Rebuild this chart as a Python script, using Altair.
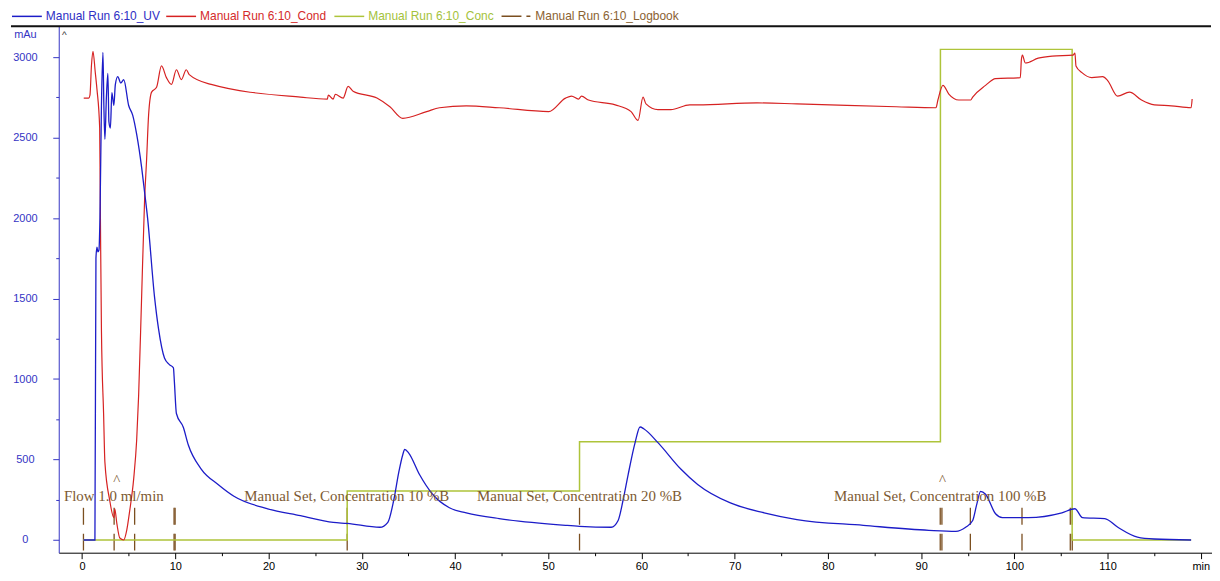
import altair as alt
import pandas as pd

UV = "Manual Run 6:10_UV"
COND = "Manual Run 6:10_Cond"
CONC = "Manual Run 6:10_Conc"
LOG = "Manual Run 6:10_Logbook"

# UV absorbance (min, mAu)
uv_t = [0.15, 1.38, 1.49, 1.6, 1.7, 1.81, 1.92, 2.08, 2.24, 2.34, 2.45, 2.61, 2.77, 2.88, 3.04, 3.2, 3.41,
        3.57, 3.83, 4.15, 4.47, 5.0, 5.43, 5.86, 6.39, 6.71, 7.03, 7.77, 8.2, 8.84, 9.37, 9.8, 9.9, 10.12,
        10.86, 11.4, 12.78, 14.59, 16.29, 19.91, 23.43, 26.94, 28.44, 31.95, 32.8, 33.44, 33.97, 34.4, 34.61,
        35.04, 36.21, 37.6, 39.4, 41.21, 44.73, 48.24, 51.86, 53.35, 56.76, 57.5, 58.04, 58.57, 59.32, 59.85,
        60.28, 61.77, 64.22, 66.03, 69.54, 73.16, 76.68, 83.8, 90.84, 93.72, 94.78, 95.53, 95.96, 96.38,
        96.91, 97.98, 98.72, 101.5, 105.1, 106.5, 107.3, 109.7, 111.1, 113.2, 115.0, 118.96]
uv_v = [0, 0, 1750, 1820, 1790, 1800, 2000, 2700, 3030, 2700, 2490, 2750, 2900, 2600, 2560, 2780, 2700,
        2830, 2880, 2840, 2860, 2700, 2640, 2520, 2315, 2160, 2000, 1512, 1313, 1131, 1090, 1070, 987, 786,
        700, 590, 441, 345, 272, 194, 151, 109, 103, 79, 110, 250, 420, 530, 563,
        540, 405, 284, 200, 169, 133, 109, 91, 85, 79, 121, 250, 405, 605, 702,
        690, 605, 441, 345, 230, 169, 127, 91, 60, 54, 79, 121, 220, 302,
        284, 163, 139, 139, 169, 194, 139, 133, 79, 18, 6, 0]

# Conductivity trace (min, plotted on the mAu scale)
cond_t = [0.18, 0.71, 0.85, 1.01, 1.17, 1.42, 1.6, 1.89, 1.97, 2.08,
          2.31, 2.45, 2.98, 3.41, 3.51, 3.73, 4.05, 4.47, 4.79, 5.11,
          5.54, 5.86, 6.07, 6.39, 6.71, 6.92, 7.14, 7.46, 7.99, 8.52,
          9.05, 9.59, 10.12, 10.65, 11.18, 11.5, 13.85, 23.43, 26.31, 26.41,
          26.94, 27.16, 28.0, 28.54, 29.07, 31.63, 33.02, 34.4, 36.96, 38.34,
          41.21, 44.73, 50.06, 51.86, 52.5, 53.25, 53.57, 54.32, 57.19, 58.89,
          59.64, 60.17, 60.49, 61.77, 63.15, 65.18, 66.03, 72.4, 76.68, 87.33,
          91.59, 91.8, 92.34, 92.97, 94.04, 95.32, 95.53, 96.91, 97.98, 100.64,
          100.75, 100.86, 101.18, 102.56, 104.05, 106.29, 106.5, 106.61, 107.25, 108.31,
          109.48, 110.01, 111.08, 112.35, 113.64, 115.02, 116.83, 118.96, 119.07]
cond_v = [2746, 2746, 2765, 2950, 3037, 2904, 2800, 2560, 2000, 1300,
          786, 484, 242, 139, 194, 103, 12, 0, 60, 181,
          381, 623, 900, 1512, 2117, 2360, 2643, 2783, 2813, 2946,
          2873, 2831, 2922, 2861, 2922, 2892, 2831, 2752, 2740, 2765,
          2740, 2770, 2746, 2819, 2789, 2746, 2692, 2620, 2662, 2686,
          2698, 2686, 2662, 2746, 2758, 2740, 2758, 2734, 2704, 2662,
          2607, 2752, 2710, 2674, 2674, 2704, 2704, 2716, 2710, 2692,
          2686, 2734, 2825, 2771, 2734, 2734, 2752, 2825, 2867, 2873,
          2982, 3013, 2964, 2994, 3007, 3013, 3025, 2946, 2904, 2873,
          2879, 2855, 2758, 2783, 2734, 2704, 2698, 2686, 2740]

# Concentration %B steps
conc_t = [0.1, 28.44, 53.36, 92.07, 106.2, 118.96]
conc_v = [0, 10, 20, 100, 0, 0]

# Logbook events (min)
log_t = [0.15, 3.44, 5.64, 9.87, 9.98, 28.44, 53.36, 92.05, 92.23, 95.28, 100.82, 106.0, 106.21]

# Logbook annotations
label_t = [3.41, 28.4, 53.36, 92.05]
label_text = ["Flow 1.0 ml/min", "Manual Set, Concentration 10 %B",
              "Manual Set, Concentration 20 %B", "Manual Set, Concentration 100 %B"]
caret_t = [3.73, 92.3]
start_caret_t = [-1.9]

x_ticks = list(range(0, 121, 10))
x_minor = list(range(5, 121, 10))
y_ticks = list(range(0, 3001, 500))
y_minor = list(range(250, 3001, 500))

uv_df = pd.DataFrame({"t": uv_t, "v": uv_v, "s": UV})
cond_df = pd.DataFrame({"t": cond_t, "v": cond_v, "s": COND})
conc_df = pd.DataFrame({"t": conc_t, "v": conc_v, "s": CONC})
log_df = pd.DataFrame({"t": log_t, "s": LOG})
label_df = pd.DataFrame({"t": label_t, "label": label_text})
caret_df = pd.DataFrame({"t": caret_t, "label": "^"})
start_df = pd.DataFrame({"t": start_caret_t, "label": "^"})
one_df = pd.DataFrame({"a": [0]})

BLUE = "#1c1cc8"
RED = "#d62222"
GREEN = "#aec43a"
BROWN = "#7b4f20"
TXT_BROWN = "#7d5a32"
AXBLUE = "#3434c4"
SANS = "Liberation Sans"
SERIF = "Liberation Serif"

xs = alt.Scale(domain=[-2.5, 121.2], nice=False, zero=False)
ys = alt.Scale(domain=[-79, 3192], nice=False, zero=False)
cs = alt.Scale(domain=[-2.6, 104.7], nice=False, zero=False)

LEG_Y = -26


def series_color(name, col, label_col, legend_x, dash=None):
    kw = dict(orient="none", legendX=legend_x, legendY=LEG_Y, direction="horizontal", title=None,
              symbolType="stroke", symbolSize=900, symbolStrokeWidth=1.5, labelFont=SANS,
              labelFontSize=12, labelOffset=3, padding=0, labelColor=label_col, labelLimit=300)
    if dash:
        kw["symbolDash"] = dash
    return alt.Color("s:N", scale=alt.Scale(domain=[name], range=[col]), legend=alt.Legend(**kw))


x_major = alt.Axis(values=x_ticks, labelExpr="datum.value == 120 ? 'min' : datum.label", title=None,
                   orient="bottom", tickSize=6, labelPadding=2, labelFont=SANS, labelFontSize=11,
                   labelColor="#000", domainColor="#000", tickColor="#000", grid=False, labelOverlap=False,
                   labelFlush=False)
x_minor_axis = alt.Axis(values=x_minor, labels=False, title=None, orient="bottom", tickSize=3,
                        domain=False, tickColor="#000", grid=False)
y_major = alt.Axis(values=y_ticks, format="d", title="mAu", titleAngle=0, titleX=-34, titleY=8,
                   titleAlign="center", titleBaseline="middle", titleFontWeight="normal", titleFont=SANS,
                   titleFontSize=11, titleColor=AXBLUE, orient="left", labelAlign="center",
                   labelBaseline="middle", labelPadding=28, tickSize=6, labelFont=SANS, labelFontSize=11,
                   labelColor=AXBLUE, tickColor=AXBLUE, domainColor=AXBLUE, grid=False, labelOverlap=False)
y_minor_axis = alt.Axis(values=y_minor, labels=False, title=None, orient="left", tickSize=3,
                        domain=False, tickColor=AXBLUE, grid=False)

X_none = alt.X("t:Q", scale=xs, axis=None)

frame = alt.Chart(one_df).mark_rule(color="#111", strokeWidth=2).encode(
    y=alt.value(0), x=alt.value(-48), x2=alt.value(1158))

log_rules = alt.Chart(log_df).mark_rule(strokeDash=[17, 9], strokeWidth=1.3).encode(
    x=X_none,
    y=alt.YDatum(200, type="quantitative", scale=ys, axis=None),
    y2=alt.Y2Datum(-79),
    color=series_color(LOG, BROWN, "#8a6232", 444, dash=[20, 5, 4, 1]),
)

conc_line = alt.Chart(conc_df).mark_line(interpolate="step-after", strokeWidth=1.5).encode(
    x=X_none, y=alt.Y("v:Q", scale=cs, axis=None),
    color=series_color(CONC, GREEN, "#a4c23c", 276))

cond_line = alt.Chart(cond_df).mark_line(interpolate="monotone", strokeWidth=1.2).encode(
    x=alt.X("t:Q", scale=xs, axis=x_minor_axis),
    y=alt.Y("v:Q", scale=ys, axis=y_minor_axis),
    color=series_color(COND, RED, "#d42a2a", 107))

uv_line = alt.Chart(uv_df).mark_line(interpolate="monotone", strokeWidth=1.3).encode(
    x=alt.X("t:Q", scale=xs, axis=x_major),
    y=alt.Y("v:Q", scale=ys, axis=y_major),
    color=series_color(UV, BLUE, "#2e2ec4", -48))

labels = alt.Chart(label_df).mark_text(font=SERIF, fontSize=15, color=TXT_BROWN, align="center",
                                       baseline="alphabetic").encode(
    x=X_none, y=alt.YDatum(241, type="quantitative", scale=ys, axis=None), text="label:N")

carets = alt.Chart(caret_df).mark_text(font=SERIF, fontSize=15, color=TXT_BROWN, align="center",
                                       baseline="alphabetic").encode(
    x=X_none, y=alt.YDatum(344, type="quantitative", scale=ys, axis=None), text="label:N")

start_caret = alt.Chart(start_df).mark_text(font=SANS, fontSize=10, color="#333", align="center",
                                            baseline="alphabetic").encode(
    x=X_none, y=alt.YDatum(3120, type="quantitative", scale=ys, axis=None), text="label:N")

chart = alt.layer(
    log_rules, conc_line, cond_line, uv_line, labels, carets, start_caret, frame
).resolve_scale(
    x="independent", y="independent", color="independent"
).resolve_axis(
    x="independent", y="independent"
).resolve_legend(
    color="independent"
).properties(
    width=1210, height=565,
    autosize=alt.AutoSizeParams(type="fit", contains="padding"),
    padding={"left": 2, "top": 16, "right": 0, "bottom": 0},
    background="white",
).configure_view(stroke=None)

chart.save("out.html", embed_options={"renderer": "svg", "actions": False})
